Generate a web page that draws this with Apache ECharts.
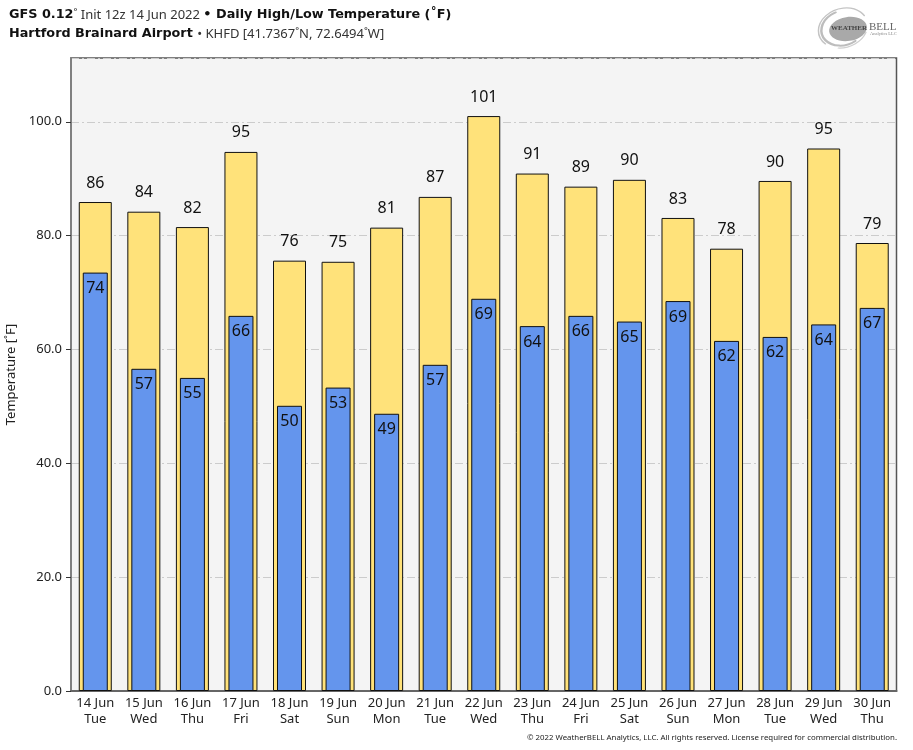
<!DOCTYPE html>
<html>
<head>
<meta charset="utf-8">
<style>html,body{margin:0;padding:0;background:#fff}#chart{width:913px;height:750px}</style>
<script src="https://cdn.jsdelivr.net/npm/echarts@6/dist/echarts.min.js"></script>
</head>
<body>
<div id="chart"></div>
<script>
var days = ['14 Jun','15 Jun','16 Jun','17 Jun','18 Jun','19 Jun','20 Jun','21 Jun','22 Jun','23 Jun','24 Jun','25 Jun','26 Jun','27 Jun','28 Jun','29 Jun','30 Jun'];
var weekdays = ['Tue','Wed','Thu','Fri','Sat','Sun','Mon','Tue','Wed','Thu','Fri','Sat','Sun','Mon','Tue','Wed','Thu'];
var highs = [85.9,84.2,81.5,94.7,75.6,75.4,81.4,86.8,101.0,90.9,88.6,89.8,83.1,77.7,89.6,95.3,78.7];
var lows = [73.5,56.6,55.0,65.9,50.1,53.3,48.7,57.3,68.9,64.1,65.9,64.9,68.5,61.5,62.2,64.4,67.3];
var categories = days.map(function (d, i) { return d + '\n' + weekdays[i]; });

var font = '"Noto Sans", sans-serif';
var chart = echarts.init(document.getElementById('chart'));

function round(p) { return Math.round(p.value); }

var titleRich = {
  b: { fontFamily: '"DejaVu Sans", sans-serif', fontSize: 12.8, fontWeight: 'bold', color: '#111', lineHeight: 18 },
  n: { fontFamily: font, fontSize: 13, fontWeight: 'normal', color: '#333', lineHeight: 18 }
};

// logo swirl pieces
function swirl(r, start, end, width, color) {
  return {
    type: 'arc', x: 843, y: 28, rotation: 0.3, scaleY: 0.78,
    shape: { cx: 0, cy: 0, r: r, startAngle: start, endAngle: end },
    style: { fill: null, stroke: color, lineWidth: width, lineCap: 'round' }
  };
}

chart.setOption({
  animation: false,
  backgroundColor: '#fff',
  textStyle: { fontFamily: font },
  title: [{
    left: 4, top: 1,
    text: '{b|GFS 0.12}{n|˚ Init 12z 14 Jun 2022 }{b|• Daily High/Low Temperature (˚F)}',
    textStyle: { rich: titleRich }
  }, {
    left: 4, top: 20,
    text: '{b|Hartford Brainard Airport }{n|• KHFD [41.7367˚N, 72.6494˚W]}',
    textStyle: { rich: titleRich }
  }, {
    right: 11, top: 729,
    text: '© 2022 WeatherBELL Analytics, LLC. All rights reserved. License required for commercial distribution.',
    textStyle: { fontFamily: font, fontSize: 7.85, fontWeight: 'normal', color: '#222' }
  }],
  grid: {
    left: 71, right: 16.5, top: 58, bottom: 59,
    outerBoundsMode: 'none',
    show: true, backgroundColor: '#f4f4f4', borderColor: '#555', borderWidth: 1.5
  },
  xAxis: [{
    type: 'category', data: categories,
    axisTick: { show: false },
    axisLine: { lineStyle: { color: '#666', width: 2 } },
    axisLabel: { fontSize: 13, color: '#222', lineHeight: 16, margin: 4, interval: 0 }
  }, {
    type: 'category', data: categories, position: 'bottom', show: false
  }],
  yAxis: {
    type: 'value', min: 0, max: 111.2, interval: 20,
    name: 'Temperature [˚F]', nameLocation: 'middle', nameGap: 50,
    nameTextStyle: { fontSize: 13, color: '#222' },
    axisLine: { show: true, lineStyle: { color: '#808080', width: 2 } },
    axisTick: { show: true, length: 5, lineStyle: { color: '#333' } },
    axisLabel: { fontSize: 13, color: '#222', margin: 9, showMaxLabel: false,
      formatter: function (v) { return v.toFixed(1); } },
    splitLine: { show: true, lineStyle: { color: '#cccccc', width: 1, type: [8, 3, 2, 3] } }
  },
  series: [{
    name: 'High', type: 'bar', xAxisIndex: 0, data: highs, barWidth: 33,
    itemStyle: { color: '#ffe27a', borderColor: '#111', borderWidth: 1 },
    label: { show: true, position: 'top', distance: 11, fontSize: 16, color: '#111', formatter: round }
  }, {
    name: 'Low', type: 'bar', xAxisIndex: 1, data: lows, barWidth: 25,
    itemStyle: { color: '#6495ed', borderColor: '#111', borderWidth: 1 },
    label: { show: true, position: 'insideTop', distance: 8, fontSize: 16, color: '#111', formatter: round }
  }],
  graphic: [
    swirl(25, 2.6, 6.0, 1.5, '#c4c4c4'),
    swirl(22, 1.2, 4.6, 2.5, '#bdbdbd'),
    swirl(25, 0.6, 2.0, 1.5, '#cfcfcf'),
    { type: 'ellipse', x: 848, y: 29, rotation: 0.15, shape: { cx: 0, cy: 0, rx: 19, ry: 12 }, style: { fill: '#a9a9a9' } },
    { type: 'text', x: 831, y: 28, style: { text: 'WEATHER', fontFamily: 'Liberation Serif', fontSize: 7, fontWeight: 'bold', fill: '#444', textVerticalAlign: 'middle' } },
    { type: 'text', x: 869, y: 27, style: { text: 'BELL', fontFamily: 'Liberation Serif', fontSize: 11, fill: '#666', textVerticalAlign: 'middle' } },
    { type: 'text', x: 870, y: 34, style: { text: 'Analytics LLC', fontFamily: 'Liberation Serif', fontSize: 4.5, fill: '#888', textVerticalAlign: 'middle' } }
  ]
});
</script>
</body>
</html>
